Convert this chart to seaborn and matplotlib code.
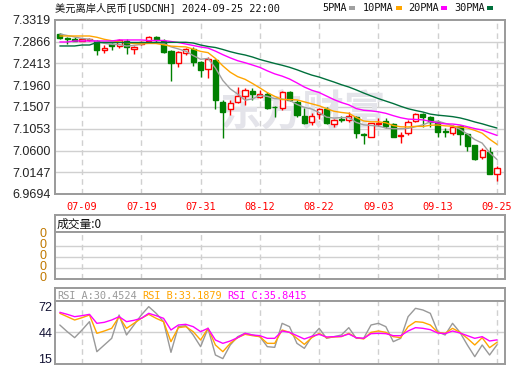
import numpy as np
import pandas as pd
import matplotlib
matplotlib.use("Agg")
import matplotlib.pyplot as plt
import seaborn as sns
from matplotlib.patches import Rectangle

# ---------------- data ----------------
title_text = "美元离岸人民币[USDCNH] 2024-09-25 22:00"
dates = pd.bdate_range("2024-07-04", "2024-09-25")

opens = [7.3027, 7.2950, 7.2930, 7.2888, 7.2896, 7.2888, 7.2701, 7.2819, 7.2778, 7.2888,
         7.2721, 7.2819, 7.2888, 7.2959, 7.2888, 7.2680, 7.2417, 7.2625, 7.2715, 7.2451,
         7.2292, 7.2486, 7.1611, 7.1459, 7.1605, 7.1742, 7.1840, 7.1722, 7.1771, 7.1515,
         7.1480, 7.1826, 7.1618, 7.1320, 7.1201, 7.1361, 7.1459, 7.1153, 7.1250, 7.1236,
         7.1306, 7.0945, 7.0888, 7.1153, 7.1222, 7.1146, 7.0903, 7.0959, 7.1215, 7.1355,
         7.1306, 7.1201, 7.1008, 7.0959, 7.1111, 7.0945, 7.0716, 7.0472, 7.0576, 7.0105]
highs = [7.3055, 7.2971, 7.2959, 7.2930, 7.2938, 7.2903, 7.2792, 7.2846, 7.2917, 7.2917,
         7.2778, 7.2888, 7.2986, 7.2986, 7.2917, 7.2694, 7.2680, 7.2730, 7.2763, 7.2472,
         7.2555, 7.2507, 7.1653, 7.1653, 7.1930, 7.1896, 7.1896, 7.1861, 7.1826, 7.1528,
         7.1847, 7.1840, 7.1653, 7.1480, 7.1376, 7.1480, 7.1501, 7.1264, 7.1320, 7.1409,
         7.1320, 7.0959, 7.1180, 7.1271, 7.1271, 7.1167, 7.0993, 7.1236, 7.1376, 7.1376,
         7.1320, 7.1236, 7.1063, 7.1132, 7.1132, 7.0972, 7.0716, 7.0660, 7.0680, 7.0285]
lows = [7.2930, 7.2813, 7.2875, 7.2875, 7.2882, 7.2596, 7.2638, 7.2694, 7.2742, 7.2611,
        7.2611, 7.2798, 7.2861, 7.2861, 7.2638, 7.2055, 7.2346, 7.2590, 7.2361, 7.2138,
        7.2105, 7.1459, 7.0855, 7.1340, 7.1584, 7.1549, 7.1653, 7.1688, 7.1459, 7.1305,
        7.1445, 7.1638, 7.1292, 7.1153, 7.1132, 7.1251, 7.1146, 7.1084, 7.1201, 7.1201,
        7.0855, 7.0736, 7.0880, 7.1111, 7.1063, 7.0876, 7.0751, 7.0924, 7.1188, 7.1084,
        7.1084, 7.0888, 7.0888, 7.0924, 7.0711, 7.0597, 7.0403, 7.0418, 7.0105, 6.9972]
closes = [7.2950, 7.2917, 7.2888, 7.2917, 7.2923, 7.2694, 7.2742, 7.2778, 7.2903, 7.2763,
          7.2763, 7.2861, 7.2959, 7.2903, 7.2659, 7.2417, 7.2646, 7.2715, 7.2451, 7.2278,
          7.2501, 7.1653, 7.1409, 7.1584, 7.1736, 7.1861, 7.1784, 7.1778, 7.1480, 7.1501,
          7.1826, 7.1653, 7.1340, 7.1180, 7.1320, 7.1459, 7.1180, 7.1236, 7.1236, 7.1320,
          7.0959, 7.0924, 7.1167, 7.1180, 7.1111, 7.0888, 7.0924, 7.1201, 7.1355, 7.1306,
          7.1201, 7.0993, 7.0980, 7.1097, 7.0945, 7.0701, 7.0418, 7.0611, 7.0105, 7.0230]
volume = [0] * 60

# moving-average values before a full window is available
ma5_head = [7.3027, 7.2996, 7.2965, 7.2934]
ma10_head = [7.2986, 7.2986, 7.2986, 7.2986, 7.2986, 7.2959, 7.2917, 7.2888, 7.2861]
ma20_head = [7.2861, 7.2861, 7.2882, 7.2882, 7.2882, 7.2882, 7.2882, 7.2882, 7.2903, 7.2903,
             7.2903, 7.2903, 7.2892, 7.2892, 7.2892, 7.2871, 7.2850, 7.2819, 7.2788]
ma30_head = [7.2778, 7.2778, 7.2778, 7.2798, 7.2798, 7.2850, 7.2850, 7.2850, 7.2850, 7.2850,
             7.2850, 7.2850, 7.2850, 7.2850, 7.2850, 7.2854, 7.2854, 7.2854, 7.2840, 7.2798,
             7.2767, 7.2746, 7.2705, 7.2659, 7.2621, 7.2590, 7.2548, 7.2496, 7.2455]

rsi_a = [52.05, 44.79, 38.25, 46.60, 55.69, 22.99, 30.26, 37.52, 62.95, 41.15,
         52.05, 62.95, 72.03, 64.77, 55.69, 22.26, 50.24, 51.33, 41.15, 28.44,
         48.42, 19.36, 15.40, 30.26, 39.34, 42.97, 41.15, 39.34, 28.44, 27.71,
         53.87, 50.24, 32.07, 26.62, 39.34, 48.42, 37.52, 39.34, 41.15, 49.15,
         37.52, 37.52, 52.05, 53.87, 50.24, 33.89, 37.52, 61.13, 70.22, 68.40,
         64.77, 44.79, 41.15, 53.87, 44.06, 30.26, 17.54, 30.26, 19.36, 30.4524]
rsi_b = [64.77, 61.13, 57.50, 60.04, 62.95, 42.97, 45.51, 48.42, 61.13, 48.42,
         53.87, 59.32, 63.68, 59.32, 55.69, 33.89, 49.15, 50.24, 44.79, 35.70,
         48.42, 30.26, 22.99, 32.07, 38.25, 41.88, 40.43, 39.34, 32.07, 32.07,
         46.60, 44.06, 37.52, 30.98, 38.25, 42.97, 38.25, 38.97, 39.34, 42.97,
         38.25, 36.79, 44.06, 45.51, 44.06, 39.34, 38.25, 50.24, 55.69, 54.96,
         52.05, 44.06, 42.97, 48.42, 44.06, 37.52, 30.26, 38.25, 27.35, 33.1879]
rsi_c = [65.86, 63.68, 61.13, 62.23, 63.68, 53.87, 54.96, 57.50, 61.13, 55.69,
         57.14, 59.32, 64.77, 62.23, 59.32, 46.60, 52.05, 52.78, 50.24, 44.79,
         48.42, 35.70, 32.07, 34.61, 38.25, 42.97, 41.15, 40.43, 37.52, 37.52,
         45.51, 44.06, 40.43, 36.79, 39.70, 41.88, 38.97, 39.34, 39.70, 42.24,
         38.25, 37.52, 42.61, 42.97, 42.61, 40.43, 40.43, 45.51, 49.15, 48.42,
         46.97, 43.33, 42.61, 45.51, 43.33, 40.43, 37.52, 39.34, 34.61, 35.8415]

price_ticks = [6.9694, 7.0147, 7.0600, 7.1053, 7.1507, 7.1960, 7.2413, 7.2866, 7.3319]
rsi_ticks = [15, 44, 72]
ma_names = ["5PMA", "10PMA", "20PMA", "30PMA"]
ma_windows = [5, 10, 20, 30]

# ---------------- derived series ----------------
df = pd.DataFrame({"date": dates, "open": opens, "high": highs, "low": lows,
                   "close": closes, "volume": volume})
df["i"] = np.arange(len(df))
heads = [ma5_head, ma10_head, ma20_head, ma30_head]
for name, w, head in zip(ma_names, ma_windows, heads):
    m = df["close"].rolling(w).mean()
    m.iloc[:len(head)] = head
    df[name] = m
df["rsi_a"], df["rsi_b"], df["rsi_c"] = rsi_a, rsi_b, rsi_c

# ---------------- style ----------------
sns.set_theme(style="white")
plt.rcParams["font.family"] = ["DejaVu Sans", "Noto Sans CJK SC"]
MONO = ["DejaVu Sans Mono", "Noto Sans CJK SC"]
CJK = ["Noto Sans CJK SC", "DejaVu Sans"]
NUM = ["Liberation Sans", "DejaVu Sans"]

W, H = 520, 365
fig = plt.figure(figsize=(W / 100, H / 100), dpi=100)
fig.patch.set_facecolor("white")

def fx(px):
    return px / W

def fy(py):
    return 1 - py / H

def add_axes(x0, y0, x1, y1):
    return fig.add_axes([fx(x0), fy(y1), fx(x1) - fx(x0), fy(y0) - fy(y1)])

BORDER = "#9a9a9a"
GRID = "#d0d0d0"
RED = "#ff0000"
GREEN = "#008000"
ma_colors = ["#a0a0a0", "#ffa500", "#ff00ff", "#00703c"]
XL = (-0.65, 60.08)
tick_pos = list(range(3, 60, 8))
tick_lab = [dates[i].strftime("%m-%d") for i in tick_pos]

def style_box(ax):
    for s in ax.spines.values():
        s.set_color(BORDER)
        s.set_linewidth(1.4)
    ax.set_facecolor("white")

# ---------------- main price panel ----------------
ax = add_axes(55, 20, 505, 194)
style_box(ax)
ax.set_xlim(*XL)
ax.set_ylim(price_ticks[0], price_ticks[-1])
for t in price_ticks[1:-1]:
    ax.axhline(t, color=GRID, lw=1.0, zorder=0)
for p in tick_pos:
    ax.axvline(p, color=GRID, lw=1.0, ls=(0, (4, 3)), zorder=0)
ax.text(0.55, 0.47, "东方财富", transform=ax.transAxes, fontsize=30, color="#e4e4ea",
        fontweight="bold", family=CJK, ha="center", va="center", zorder=0.5)

bw = 0.70
for r in df.itertuples():
    up = r.close >= r.open
    col = RED if up else GREEN
    ax.vlines(r.i, r.low, r.high, color=col, lw=1.0, zorder=2)
    lo, hi = min(r.open, r.close), max(r.open, r.close)
    h = max(hi - lo, 0.0004)
    ax.add_patch(Rectangle((r.i - bw / 2, lo), bw, h,
                           facecolor="white" if up else GREEN, edgecolor=col,
                           lw=1.0, zorder=3))

for name, c in zip(ma_names, ma_colors):
    sns.lineplot(data=df, x="i", y=name, ax=ax, color=c, lw=1.0, zorder=4)

ax.set_xlabel("")
ax.set_ylabel("")
ax.set_yticks(price_ticks)
ax.set_yticklabels([f"{t:.4f}" for t in price_ticks], family=NUM, fontsize=9, color="#222222")
ax.set_xticks(tick_pos)
ax.set_xticklabels(tick_lab, family=MONO, fontsize=7.4, color=RED)
ax.tick_params(axis="both", length=0, pad=3)
ax.tick_params(axis="x", pad=6)

# ---------------- volume panel ----------------
axvh = add_axes(55, 215, 505, 232.3)
style_box(axvh)
axvh.set_xticks([]); axvh.set_yticks([])
axvh.text(2 / 450, 0.45, "成交量:0", transform=axvh.transAxes, family=CJK,
          fontsize=8.5, color="#111111", ha="left", va="center")

axv = add_axes(55, 232.3, 505, 279)
style_box(axv)
axv.set_xlim(*XL)
axv.set_ylim(0, 4)
sns.barplot(x=df["i"], y=df["volume"], ax=axv, color=GREEN, native_scale=True)
axv.set_xlim(*XL)
axv.set_ylim(0, 4)
for t in [1, 2, 3]:
    axv.axhline(t, color=GRID, lw=1.0, zorder=0)
for p in tick_pos:
    axv.axvline(p, color=GRID, lw=1.0, ls=(0, (4, 3)), zorder=0)
axv.set_xticks([])
axv.set_yticks([0.22, 1.22, 2.22, 3.22, 4.22])
axv.set_yticklabels(["0"] * 5, family=NUM, fontsize=9, color="#c07800")
axv.tick_params(axis="y", length=0, pad=6)
axv.set_xlabel(""); axv.set_ylabel("")

# ---------------- RSI panel ----------------
axrh = add_axes(55, 288, 505, 301)
style_box(axrh)
axrh.set_xticks([]); axrh.set_yticks([])
rsi_hdr = [("RSI_A", rsi_a[-1], "#999999", 57), ("RSI_B", rsi_b[-1], "#ffa500", 142),
           ("RSI_C", rsi_c[-1], "#ff00ff", 227)]
for lab, v, c, px in rsi_hdr:
    axrh.text((px - 55) / 450, 0.45, f"{lab}:{v:.4f}", transform=axrh.transAxes,
              family=MONO, fontsize=7.4, color=c, ha="left", va="center")

axr = add_axes(55, 301, 505, 364)
style_box(axr)
axr.set_xlim(*XL)
axr.set_ylim(9.55, 78.2)
axr.axhline(rsi_ticks[1], color=GRID, lw=1.0, zorder=0)
for p in tick_pos:
    axr.axvline(p, color=GRID, lw=1.0, ls=(0, (4, 3)), zorder=0)
for col, c in zip(["rsi_a", "rsi_b", "rsi_c"], ["#999999", "#ffa500", "#ff00ff"]):
    sns.lineplot(data=df, x="i", y=col, ax=axr, color=c, lw=1.0, zorder=3)
axr.set_xlim(*XL)
axr.set_xticks([])
axr.set_yticks(rsi_ticks)
axr.set_yticklabels([str(t) for t in rsi_ticks], family=NUM, fontsize=9, color="#111133")
axr.tick_params(axis="y", length=0, pad=2)
axr.set_xlabel(""); axr.set_ylabel("")

# ---------------- header & legend ----------------
fig.text(fx(55), fy(8), title_text, family=MONO, fontsize=7.4, color="#111111",
         ha="left", va="center")
leg_x = [322, 363, 408, 454]
for name, c, px in zip(ma_names, ma_colors, leg_x):
    t = fig.text(fx(px), fy(8), name, family=MONO, fontsize=7.4, color="#111111",
                 ha="left", va="center")
    sq_x = px + 6 * len(name) + 3
    fig.patches.append(Rectangle((fx(sq_x), fy(10)), fx(6), 4 / H, transform=fig.transFigure,
                                 facecolor=c, edgecolor="none", figure=fig))

fig.savefig("out.png", dpi=100, facecolor="white")
